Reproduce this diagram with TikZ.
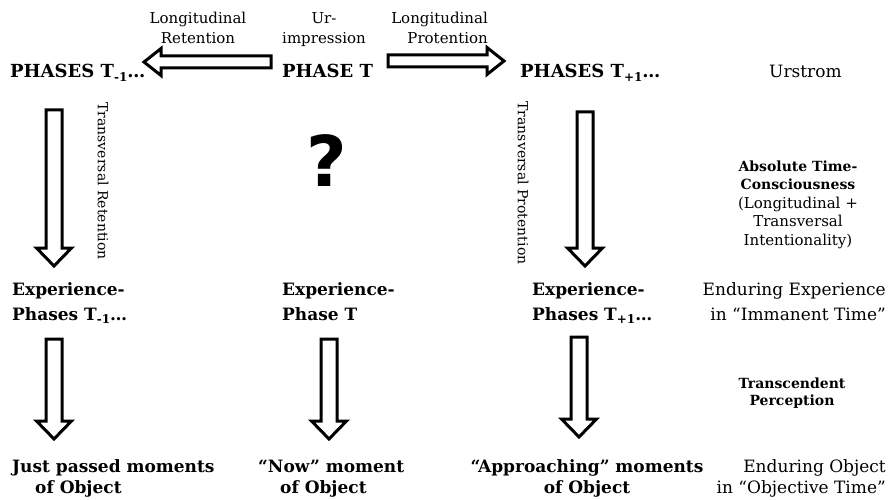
\documentclass[tikz,border=0pt]{standalone}
\usepackage{fontspec}
\setmainfont{DejaVu Serif}
\setsansfont{DejaVu Sans}
\usetikzlibrary{calc}

% lowered small index after T
\newcommand{\idx}[1]{\raisebox{-0.22em}{\fontsize{12}{12}\selectfont #1}}

% vertical hollow block arrows: half body, half head, head length
\newcommand{\abw}{8pt}
\newcommand{\ahw}{17.5pt}
\newcommand{\ahl}{18pt}
% horizontal hollow block arrows: half body, half head, head length
\newcommand{\sbw}{6pt}
\newcommand{\shw}{13.5pt}
\newcommand{\shl}{17pt}

% vertical block arrow from #1 (tail) down to #2 (tip)
\newcommand{\downblock}[2]{%
  \draw[blockarrow] let \p1=(#1), \p2=(#2) in
    ({\x1-\abw},\y1) -- ({\x1-\abw},{\y2+\ahl}) -- ({\x1-\ahw},{\y2+\ahl}) -- (\x1,\y2)
    -- ({\x1+\ahw},{\y2+\ahl}) -- ({\x1+\abw},{\y2+\ahl}) -- ({\x1+\abw},\y1) -- cycle;}

% horizontal block arrow from #1 (tail) to #2 (tip); #3 = 1 points right, -1 left
\newcommand{\sideblock}[3]{%
  \draw[blockarrow] let \p1=(#1), \p2=(#2), \n1={\x2-(#3)*\shl} in
    (\x1,{\y1+\sbw}) -- (\n1,{\y1+\sbw}) -- (\n1,{\y1+\shw}) -- (\x2,\y1)
    -- (\n1,{\y1-\shw}) -- (\n1,{\y1-\sbw}) -- (\x1,{\y1-\sbw}) -- cycle;}

\tikzset{
  blockarrow/.style={draw=black, fill=white, line width=3pt, line join=miter},
  smalllab/.style={font=\fontsize{15}{20}\selectfont, inner sep=0pt},
  phaserow/.style={font=\bfseries\fontsize{18}{22}\selectfont, inner sep=0pt},
  boldrow/.style={font=\bfseries\fontsize{17}{25}\selectfont, inner sep=0pt},
  objrow/.style={font=\bfseries\fontsize{17}{21}\selectfont, inner sep=0pt},
  sidelab/.style={font=\fontsize{17}{25}\selectfont, inner sep=0pt},
  sidelabobj/.style={font=\fontsize{17}{21}\selectfont, inner sep=0pt},
  vertlab/.style={font=\fontsize{14}{16}\selectfont, inner sep=0pt, rotate=-90},
}

\begin{document}
\begin{tikzpicture}[x=1pt, y=-1pt]
  \fill[white] (0,0) rectangle (891,500);
  \path[use as bounding box] (0,0) rectangle (891,500);

  % top labels over the longitudinal arrows (anchored at the last line's baseline)
  \node[smalllab, align=center, anchor=base] (lret) at (198,44) {Longitudinal\\Retention};
  \node[smalllab, align=center, anchor=base] (urimp) at (324,44) {Ur-\\impression};
  \node[smalllab, align=right, anchor=base east] (lprot) at (488,44) {Longitudinal\\Protention};

  % phases of the primal flow
  \node[phaserow, anchor=base west] (phm) at (10,78) {PHASES T\idx{-1}…};
  \node[phaserow, anchor=base west] (ph) at (282,78) {PHASE T};
  \node[phaserow, anchor=base west] (php) at (520,78) {PHASES T\idx{+1}…};
  \node[font=\fontsize{17}{20}\selectfont, inner sep=0pt, anchor=base west] (urstrom) at (769,78) {Urstrom};

  % longitudinal arrows
  \coordinate (hLtail) at (271,62);
  \coordinate (hLtip) at (144,62);
  \coordinate (hRtail) at (388,61);
  \coordinate (hRtip) at (504,61);
  \sideblock{hLtail}{hLtip}{-1}
  \sideblock{hRtail}{hRtip}{1}

  % transversal arrows
  \coordinate (vL1a) at (54,110);
  \coordinate (vL1b) at (54,266);
  \coordinate (vR1a) at (585,112);
  \coordinate (vR1b) at (585,266);
  \downblock{vL1a}{vL1b}
  \downblock{vR1a}{vR1b}

  \node[vertlab] (tret) at (103,181) {Transversal Retention};
  \node[vertlab] (tprot) at (523,183) {Transversal Protention};
  \node[font=\sffamily\bfseries\fontsize{70}{70}\selectfont, inner sep=0pt] (q) at (327,161) {?};

  \node[font=\fontsize{15}{18.5}\selectfont, inner sep=0pt, align=center, anchor=base] (abs) at (798,245)
    {{\bfseries\fontsize{14}{18.5}\selectfont Absolute Time-}\\{\bfseries\fontsize{14}{18.5}\selectfont Consciousness}\\(Longitudinal +\\Transversal\\Intentionality)};

  % experience phases
  \node[boldrow, align=left, anchor=base west] (expm) at (12,320) {Experience-\\Phases T\idx{-1}…};
  \node[boldrow, align=left, anchor=base west] (expt) at (282,320) {Experience-\\Phase T};
  \node[boldrow, align=left, anchor=base west] (expp) at (532,320) {Experience-\\Phases T\idx{+1}…};
  \node[sidelab, align=right, anchor=base east] (endexp) at (886,320) {Enduring Experience\\in “Immanent Time”};

  % perception arrows
  \coordinate (vL2a) at (54,339);
  \coordinate (vL2b) at (54,439);
  \coordinate (vM2a) at (329,339);
  \coordinate (vM2b) at (329,439);
  \coordinate (vR2a) at (579,337);
  \coordinate (vR2b) at (579,437);
  \downblock{vL2a}{vL2b}
  \downblock{vM2a}{vM2b}
  \downblock{vR2a}{vR2b}

  \node[font=\bfseries\fontsize{14}{17}\selectfont, inner sep=0pt, align=center, anchor=base] (trans) at (792,405) {Transcendent\\Perception};

  % object moments
  \node[objrow, align=left, anchor=base west] (jpm) at (12,493) {Just passed moments\\\hspace*{23pt}of Object};
  \node[objrow, align=left, anchor=base west] (now) at (258,493) {“Now” moment\\\hspace*{22pt}of Object};
  \node[objrow, align=center, anchor=base] (appr) at (587,493) {“Approaching” moments\\of Object};
  \node[sidelabobj, align=right, anchor=base east] (endobj) at (886,493) {Enduring Object\\in “Objective Time”};
\end{tikzpicture}
\end{document}
